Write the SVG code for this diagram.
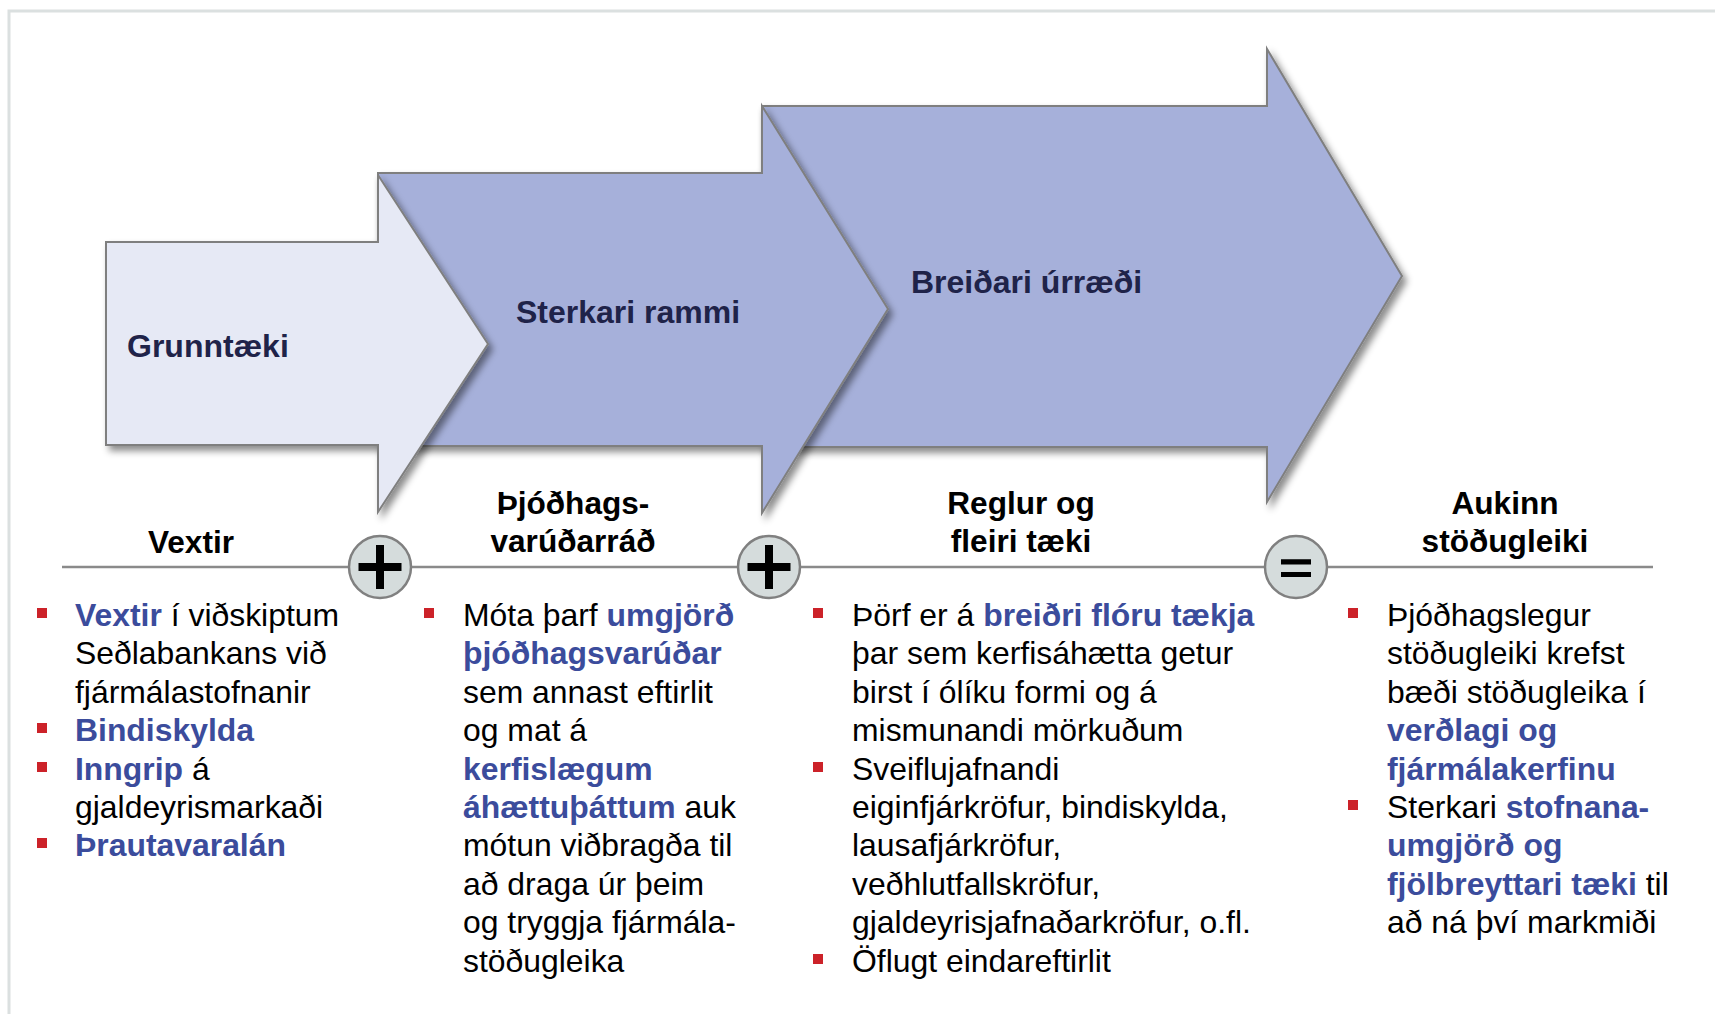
<svg xmlns="http://www.w3.org/2000/svg" width="1715" height="1014" viewBox="0 0 1715 1014">
<defs>
<filter id="sh" x="-10%" y="-10%" width="130%" height="130%">
<feDropShadow dx="4" dy="5" stdDeviation="3.5" flood-color="#000" flood-opacity="0.45"/>
</filter>
</defs>
<style>
text{font-family:"Liberation Sans",Arial,sans-serif;}
.arrow{stroke:#7f7f7f;stroke-width:2;stroke-linejoin:miter;filter:url(#sh);}
.a1{fill:#e6e9f5;}
.a2{fill:#a6b0da;}
.albl{font-size:32px;font-weight:bold;fill:#1f2349;}
.head{font-size:31.6px;font-weight:bold;fill:#000;text-anchor:middle;}
.body{font-size:31.9px;fill:#000;}
.b{font-weight:bold;fill:#3b4c9c;}
.bul{fill:#cc2229;}
.circ{fill:#d5dcdc;stroke:#808080;stroke-width:2.5;}
.sym{stroke:#000;fill:none;}
.line{stroke:#8a8a8a;stroke-width:2.5;fill:none;}
</style>
<rect x="9" y="11" width="1800" height="1100" fill="none" stroke="#dbe0e0" stroke-width="3"/>

<g id="arrow3">
<polygon class="arrow a2" points="762,106 1267,106 1267,49 1402,276 1267,502 1267,447 762,447"/>
<text class="albl" x="911" y="293">Breiðari úrræði</text>
</g>
<g id="arrow2">
<polygon class="arrow a2" points="378,173 762,173 762,106 888,309 762,513 762,446 378,446"/>
<text class="albl" x="516" y="323">Sterkari rammi</text>
</g>
<g id="arrow1">
<polygon class="arrow a1" points="106,242 378,242 378,175 488,344 378,512 378,445 106,445"/>
<text class="albl" x="127" y="357">Grunntæki</text>
</g>

<g id="connectors">
<line class="line" x1="62" y1="567" x2="1653" y2="567"/>
</g>

<g id="plus1">
<circle class="circ" cx="380" cy="567" r="31"/>
<path class="sym" d="M358.5,567H401.5M380,545V589" stroke-width="8"/>
</g>
<g id="plus2">
<circle class="circ" cx="769" cy="567" r="31"/>
<path class="sym" d="M747.5,567H790.5M769,545V589" stroke-width="8"/>
</g>
<g id="equals">
<circle class="circ" cx="1296" cy="567" r="31"/>
<path class="sym" d="M1281,561.8H1311M1281,574.5H1311" stroke-width="5.2"/>
</g>

<g id="col1">
<text class="head" x="191" y="553">Vextir</text>
<rect class="bul" x="37" y="608" width="10" height="10"/>
<rect class="bul" x="37" y="723" width="10" height="10"/>
<rect class="bul" x="37" y="762" width="10" height="10"/>
<rect class="bul" x="37" y="838" width="10" height="10"/>
<text class="body" x="75"><tspan x="75" y="626"><tspan class="b">Vextir</tspan> í viðskiptum</tspan><tspan x="75" y="664.4">Seðlabankans við</tspan><tspan x="75" y="702.8">fjármálastofnanir</tspan><tspan x="75" y="741.2" class="b">Bindiskylda</tspan><tspan x="75" y="779.6"><tspan class="b">Inngrip</tspan> á</tspan><tspan x="75" y="818">gjaldeyrismarkaði</tspan><tspan x="75" y="856.4" class="b">Þrautavaralán</tspan></text>
</g>

<g id="col2">
<text class="head" x="573"><tspan x="573" y="514">Þjóðhags-</tspan><tspan x="573" y="552">varúðarráð</tspan></text>
<rect class="bul" x="424" y="608" width="10" height="10"/>
<text class="body"><tspan x="463" y="626">Móta þarf <tspan class="b">umgjörð</tspan></tspan><tspan x="463" y="664.4" class="b">þjóðhagsvarúðar</tspan><tspan x="463" y="702.8">sem annast eftirlit</tspan><tspan x="463" y="741.2">og mat á</tspan><tspan x="463" y="779.6" class="b">kerfislægum</tspan><tspan x="463" y="818"><tspan class="b">áhættuþáttum</tspan> auk</tspan><tspan x="463" y="856.4">mótun viðbragða til</tspan><tspan x="463" y="894.8">að draga úr þeim</tspan><tspan x="463" y="933.2">og tryggja fjármála-</tspan><tspan x="463" y="971.6">stöðugleika</tspan></text>
</g>

<g id="col3">
<text class="head" x="1021"><tspan x="1021" y="514">Reglur og</tspan><tspan x="1021" y="552">fleiri tæki</tspan></text>
<rect class="bul" x="813" y="608" width="10" height="10"/>
<rect class="bul" x="813" y="762" width="10" height="10"/>
<rect class="bul" x="813" y="954" width="10" height="10"/>
<text class="body"><tspan x="852" y="626">Þörf er á <tspan class="b">breiðri flóru tækja</tspan></tspan><tspan x="852" y="664.4">þar sem kerfisáhætta getur</tspan><tspan x="852" y="702.8">birst í ólíku formi og á</tspan><tspan x="852" y="741.2">mismunandi mörkuðum</tspan><tspan x="852" y="779.6">Sveiflujafnandi</tspan><tspan x="852" y="818">eiginfjárkröfur, bindiskylda,</tspan><tspan x="852" y="856.4">lausafjárkröfur,</tspan><tspan x="852" y="894.8">veðhlutfallskröfur,</tspan><tspan x="852" y="933.2">gjaldeyrisjafnaðarkröfur, o.fl.</tspan><tspan x="852" y="971.6">Öflugt eindareftirlit</tspan></text>
</g>

<g id="col4">
<text class="head" x="1505"><tspan x="1505" y="514">Aukinn</tspan><tspan x="1505" y="552">stöðugleiki</tspan></text>
<rect class="bul" x="1348" y="608" width="10" height="10"/>
<rect class="bul" x="1348" y="800" width="10" height="10"/>
<text class="body"><tspan x="1387" y="626">Þjóðhagslegur</tspan><tspan x="1387" y="664.4">stöðugleiki krefst</tspan><tspan x="1387" y="702.8">bæði stöðugleika í</tspan><tspan x="1387" y="741.2" class="b">verðlagi og</tspan><tspan x="1387" y="779.6" class="b">fjármálakerfinu</tspan><tspan x="1387" y="818">Sterkari <tspan class="b">stofnana-</tspan></tspan><tspan x="1387" y="856.4" class="b">umgjörð og</tspan><tspan x="1387" y="894.8"><tspan class="b">fjölbreyttari tæki</tspan> til</tspan><tspan x="1387" y="933.2">að ná því markmiði</tspan></text>
</g>
</svg>
